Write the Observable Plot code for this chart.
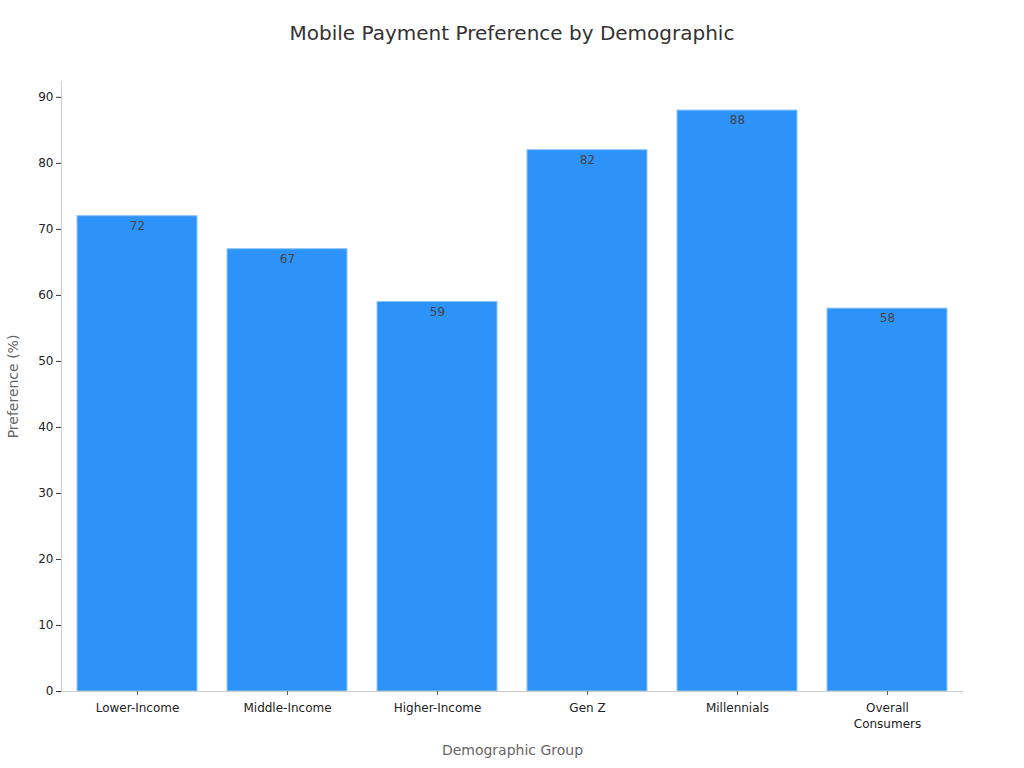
<!DOCTYPE html>
<html>
<head>
<meta charset="utf-8">
<script src="https://cdn.jsdelivr.net/npm/d3@7"></script>
<script src="https://cdn.jsdelivr.net/npm/@observablehq/plot@0.6"></script>
<style>
  body { margin: 0; background: #fff; font-family: "DejaVu Sans", sans-serif; }
  #wrap { position: relative; width: 1024px; height: 768px; }
  #title { position: absolute; top: 21px; left: 0; width: 1024px; text-align: center; font-size: 20px; color: #333; font-family: "DejaVu Sans", sans-serif; }
</style>
</head>
<body>
<div id="wrap">
  <div id="title">Mobile Payment Preference by Demographic</div>
  <div id="chart"></div>
</div>
<script>
const categories = ["Lower-Income", "Middle-Income", "Higher-Income", "Gen Z", "Millennials", "Overall Consumers"];
const values = [72, 67, 59, 82, 88, 58];
const tickLabels = ["Lower-Income", "Middle-Income", "Higher-Income", "Gen Z", "Millennials", "Overall\nConsumers"];
const yTicks = [0, 10, 20, 30, 40, 50, 60, 70, 80, 90];

const data = categories.map((c, i) => ({category: c, value: values[i]}));
const labelFor = new Map(categories.map((c, i) => [c, tickLabels[i]]));

const chart = Plot.plot({
  width: 1024,
  height: 768,
  marginLeft: 61,
  marginRight: 61,
  marginTop: 81,
  marginBottom: 77,
  style: { fontFamily: "DejaVu Sans, sans-serif", fontSize: "12px", color: "#222", background: "transparent" },
  x: { domain: categories, paddingInner: 0.2, paddingOuter: 0.1 },
  y: { domain: [0, 92.4] },
  marks: [
    Plot.barY(data, { x: "category", y: "value", fill: "#2E93F8", stroke: "#8FC6FB", strokeWidth: 1 }),
    Plot.text(data, { x: "category", y: "value", text: d => String(d.value), dy: 10, fill: "#444", fontSize: 12 }),
    Plot.ruleY([0], { stroke: "#ccc" }),
    Plot.frame({ anchor: "left", stroke: "#ccc" }),
    Plot.axisY({ ticks: yTicks, tickSize: 5, tickPadding: 3, stroke: "#333", fill: "#222", fontSize: 12,
      label: "Preference (%)", labelAnchor: "center", labelArrow: "none", labelOffset: 53 }),
    Plot.axisX({ tickSize: 4, tickPadding: 5, stroke: "#666", fill: "#222", fontSize: 12, lineAnchor: "top", lineHeight: 1.33,
      tickFormat: d => labelFor.get(d),
      label: "Demographic Group", labelAnchor: "center", labelArrow: "none", labelOffset: 63 })
  ]
});
document.getElementById("chart").appendChild(chart);

// style axis titles gray
chart.querySelectorAll("g[aria-label='y-axis label'] text, g[aria-label='x-axis label'] text").forEach(t => {
  t.setAttribute("fill", "#666");
  t.style.fontSize = "14px";
});
</script>
</body>
</html>
